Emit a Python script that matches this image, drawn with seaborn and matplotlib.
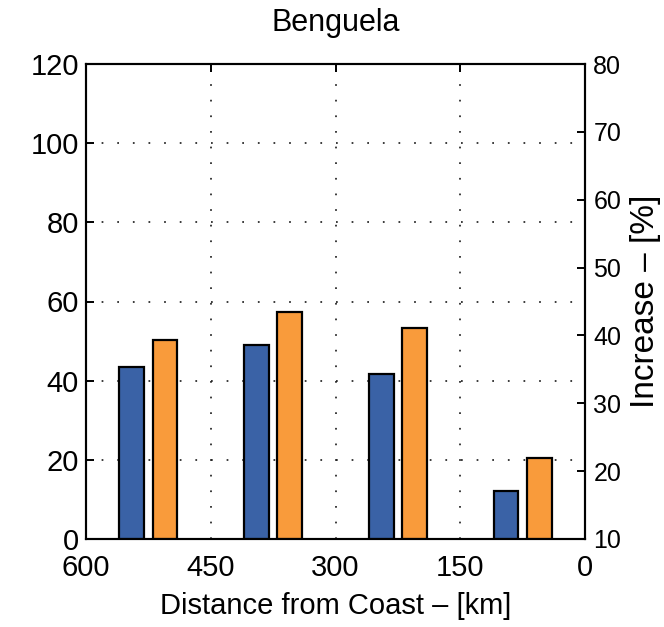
import matplotlib
matplotlib.use("Agg")
import matplotlib.pyplot as plt
import seaborn as sns
import pandas as pd

# Distance bins (centre of each 150 km band) and bar heights per series
bin_centres = [525, 375, 225, 75]
series_blue = [43.4, 49.0, 41.7, 12.1]
series_orange = [50.4, 57.3, 53.3, 20.5]
x_ticks = [600, 450, 300, 150, 0]
left_ticks = [0, 20, 40, 60, 80, 100, 120]
right_ticks = [10, 20, 30, 40, 50, 60, 70, 80]

sns.set_theme(style="white")
plt.rcParams["font.family"] = ["Liberation Sans", "DejaVu Sans"]
plt.rcParams["text.color"] = "black"
plt.rcParams["axes.labelcolor"] = "black"

df = pd.DataFrame({
    "dist": bin_centres * 2,
    "value": series_orange + series_blue,
    "series": ["orange"] * 4 + ["blue"] * 4,
})

fig = plt.figure(figsize=(6.64, 6.27), dpi=100)
ax = fig.add_axes([86 / 664, 1 - 539 / 627, (585 - 86) / 664, (539 - 64) / 627])

sns.barplot(
    data=df, x="dist", y="value", hue="series",
    hue_order=["orange", "blue"],
    palette={"blue": "#3A62A6", "orange": "#F99B3B"},
    saturation=1, native_scale=True, width=80 / 150, gap=0.25, errorbar=None,
    edgecolor="black", linewidth=1.6, legend=False, ax=ax, zorder=3,
)

ax.set_xlim(600, 0)
ax.set_ylim(0, 120)
ax.set_xticks(x_ticks)
ax.set_xticklabels([str(t) for t in x_ticks])
ax.set_yticks(left_ticks)
ax.tick_params(axis="both", direction="in", length=6, width=1.4,
               labelsize=21, top=True, colors="black")
ax.tick_params(axis="x", pad=11)
ax.tick_params(axis="y", pad=5)
ax.set_xlabel("Distance from Coast \u2013 [km]", fontsize=21, labelpad=7,
              color="black")
ax.set_ylabel("")
ax.set_title("Benguela", fontsize=22, pad=24, color="black")
ax.grid(True, color="#222222", linestyle=(0, (1, 8)), linewidth=1.25, zorder=0)
ax.set_axisbelow(True)
for s in ax.spines.values():
    s.set_visible(True)
    s.set_linewidth(1.5)
    s.set_color("black")

ax2 = ax.twinx()
ax2.set_ylim(10, 80)
ax2.set_yticks(right_ticks)
ax2.tick_params(axis="y", direction="in", length=6, width=1.4,
                labelsize=18, pad=6, colors="black")
ax2.set_ylabel("Increase \u2013 [%]", fontsize=24, labelpad=6, color="black")
for s in ax2.spines.values():
    s.set_linewidth(1.5)
    s.set_color("black")

fig.savefig("out.png", dpi=100)
